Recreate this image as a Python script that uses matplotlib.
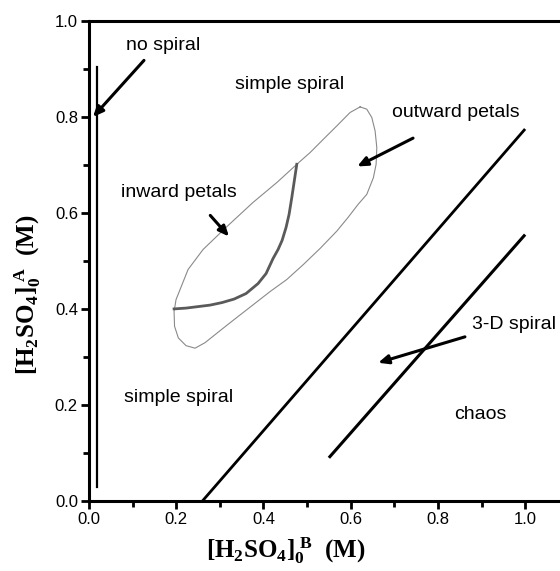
import matplotlib
matplotlib.use("Agg")
import matplotlib.pyplot as plt
from matplotlib.ticker import MultipleLocator

plt.rcParams['font.family'] = ['Liberation Sans', 'DejaVu Sans']
plt.rcParams['mathtext.fontset'] = 'custom'
plt.rcParams['mathtext.rm'] = 'Liberation Serif:bold'
plt.rcParams['mathtext.it'] = 'Liberation Serif:bold'
plt.rcParams['mathtext.bf'] = 'Liberation Serif:bold'

# boundary lines of the phase diagram (x = [H2SO4]0 B, y = [H2SO4]0 A)
no_spiral_x = [0.018, 0.018]
no_spiral_y = [0.029, 0.904]
border1_x = [0.26, 1.0]
border1_y = [0.0, 0.775]
border2_x = [0.55, 1.0]
border2_y = [0.09, 0.555]

# closed contour of the petal region
petal_x = [0.6216, 0.6369, 0.6484, 0.6560, 0.6599, 0.6583, 0.6521, 0.6369, 0.6170,
           0.5940, 0.5681, 0.5298, 0.4915, 0.4534, 0.4151, 0.3739, 0.3326, 0.3005,
           0.2661, 0.2431, 0.2225, 0.2048, 0.1961, 0.1950, 0.1995, 0.2087, 0.2271,
           0.2615, 0.3165, 0.3761, 0.4312, 0.4764, 0.5069, 0.5374, 0.5681, 0.5986,
           0.6216]
petal_y = [0.8211, 0.8163, 0.7990, 0.7710, 0.7363, 0.7015, 0.6737, 0.6388, 0.6180,
           0.5908, 0.5622, 0.5261, 0.4927, 0.4614, 0.4363, 0.4071, 0.3779, 0.3549,
           0.3299, 0.3184, 0.3236, 0.3397, 0.3639, 0.3946, 0.4196, 0.4405, 0.4823,
           0.5240, 0.5720, 0.6221, 0.6639, 0.7015, 0.7259, 0.7537, 0.7814, 0.8094,
           0.8211]

# inward / outward petals divider
divider_x = [0.1950, 0.2225, 0.2500, 0.2775, 0.3050, 0.3326, 0.3601, 0.3876, 0.4060,
             0.4220, 0.4335, 0.4427, 0.4518, 0.4587, 0.4649, 0.4702, 0.4764]
divider_y = [0.4002, 0.4019, 0.4050, 0.4081, 0.4134, 0.4207, 0.4322, 0.4530, 0.4739,
             0.5052, 0.5240, 0.5428, 0.5699, 0.5971, 0.6319, 0.6639, 0.7015]

# region labels: text, (x, y)
labels = [
    ("no spiral", 0.17, 0.95),
    ("simple spiral", 0.46, 0.868),
    ("outward petals", 0.84, 0.81),
    ("inward petals", 0.206, 0.643),
    ("simple spiral", 0.206, 0.215),
    ("3-D spiral", 0.975, 0.367),
    ("chaos", 0.897, 0.18),
]

# arrows: tail (x, y) -> head (x, y)
arrows = [
    ((0.126, 0.918), (0.009, 0.800)),
    ((0.743, 0.756), (0.615, 0.697)),
    ((0.278, 0.595), (0.321, 0.551)),
    ((0.862, 0.342), (0.663, 0.288)),
]

fig = plt.figure(figsize=(5.6, 5.71), dpi=100)
ax = fig.add_axes([0.159, 0.1226, 0.841, 0.8406])

ax.plot(no_spiral_x, no_spiral_y, color='black', lw=1.6)
ax.plot(border1_x, border1_y, color='black', lw=2.0, solid_capstyle='butt')
ax.plot(border2_x, border2_y, color='black', lw=2.2, solid_capstyle='butt')
ax.plot(petal_x, petal_y, color='#8a8a8a', lw=0.8)
ax.plot(divider_x, divider_y, color='#5a5a5a', lw=2.0)

for (tx, ty), (hx, hy) in arrows:
    ax.annotate("", xy=(hx, hy), xytext=(tx, ty),
                arrowprops=dict(arrowstyle='-|>,head_length=0.5,head_width=0.22',
                                color='black', lw=2.2, mutation_scale=12,
                                shrinkA=0, shrinkB=0))

for txt, x, y in labels:
    ax.text(x, y, txt, fontsize=14, ha='center', va='center')

ax.set_xlim(0, 1.08)
ax.set_ylim(0, 1.0)
ax.xaxis.set_major_locator(MultipleLocator(0.2))
ax.xaxis.set_minor_locator(MultipleLocator(0.1))
ax.yaxis.set_major_locator(MultipleLocator(0.2))
ax.yaxis.set_minor_locator(MultipleLocator(0.1))
ax.xaxis.set_major_formatter(plt.FormatStrFormatter('%.1f'))
ax.yaxis.set_major_formatter(plt.FormatStrFormatter('%.1f'))

ax.spines['right'].set_visible(False)
for s in ['left', 'bottom', 'top']:
    ax.spines[s].set_linewidth(2.2)
ax.tick_params(which='major', direction='out', length=6, width=2, labelsize=12, pad=2)
ax.tick_params(which='minor', direction='out', length=4, width=2)

ax.set_xlabel(r'$\mathregular{[H_2SO_4]_0^{\ B}}$  (M)', fontsize=18,
              family='Liberation Serif', weight='bold')
ax.set_ylabel(r'$\mathregular{[H_2SO_4]_0^{\ A}}$  (M)', fontsize=18,
              family='Liberation Serif', weight='bold')
ax.xaxis.set_label_coords(0.418, -0.07)
ax.yaxis.set_label_coords(-0.098, 0.43)

fig.savefig("out.png", dpi=100)
